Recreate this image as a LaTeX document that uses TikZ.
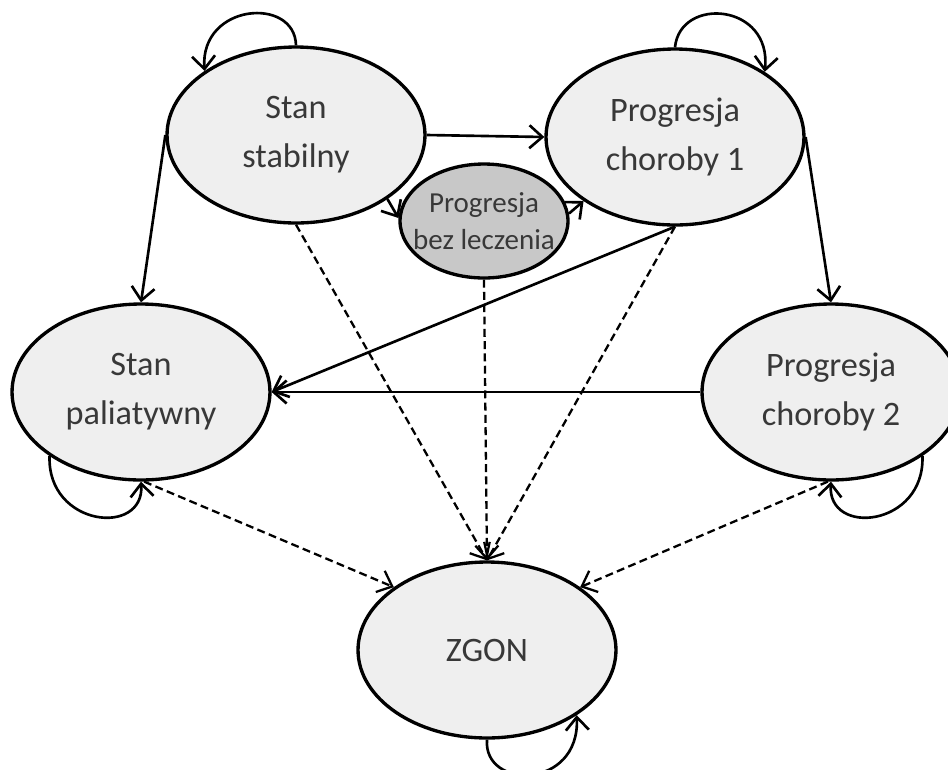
\documentclass[tikz,border=0pt]{standalone}
\usepackage{fontspec}
\setmainfont{Carlito}
\usetikzlibrary{shapes.geometric}
\usetikzlibrary{arrows.meta}
\definecolor{statefill}{HTML}{EFEFEF}
\definecolor{untreatedfill}{HTML}{C8C8C8}
\definecolor{labelgray}{HTML}{383838}
\begin{document}
\begin{tikzpicture}[x=0.02cm,y=-0.02cm,
        >={Straight Barb[length=2.6mm,width=4.6mm]},
        state/.style={ellipse,draw,line width=1.9pt,fill=statefill,text=labelgray,align=center,inner sep=0,minimum width=5.16cm,minimum height=3.52cm,font=\fontsize{19.5}{28}\selectfont},
        untreated/.style={state,fill=untreatedfill,inner xsep=-0.25cm,minimum width=3.36cm,minimum height=2.28cm,font=\fontsize{16.5}{21}\selectfont},
        move/.style={->,line width=1.5pt},
        death/.style={->,line width=1.3pt,dash pattern=on 4.5pt off 2.5pt}]
        \useasboundingbox (0,0) rectangle (948,769);
        % States
        \node[state] (stab) at (296,135) {Stan\\stabilny};
        \node[state] (prog1) at (675,137) {Progresja\\choroby 1};
        \node[untreated] (bez) at (484,221) {Progresja\\bez leczenia};
        \node[state] (pal) at (141,392) {Stan\\paliatywny};
        \node[state] (prog2) at (831,392) {Progresja\\choroby 2};
        \node[state] (zgon) at (487,650) {ZGON};
        % Staying in the same state
        \draw[move] (stab.north) .. controls (295,-4) and (200,3) .. (stab.145);
        \draw[move] (prog1.north) .. controls (680,-4) and (772,3) .. (prog1.36);
        \draw[move] (pal.215) .. controls (47,527) and (145,537) .. (pal.south);
        \draw[move] (prog2.-35) .. controls (925,527) and (827,537) .. (prog2.south);
        \draw[move] (zgon.south) .. controls (483,790) and (580,790) .. (zgon.-36);
        % Transitions
        \draw[move] (stab.east) -- (prog1.west);
        \draw[move] (stab.-35) .. controls (392,207) .. (bez.178);
        \draw[move] (bez.5) -- (prog1.215);
        \draw[move] (stab.west) -- (pal.north);
        \draw[move] (prog1.east) -- (prog2.north);
        \draw[move] (prog2.west) -- (pal.east);
        \draw[move] (prog1.south) -- (pal.east);
        % Death
        \draw[death] (stab.south) -- (zgon.north);
        \draw[death] (bez.south) -- (zgon.north);
        \draw[death] (prog1.south) -- (zgon.north);
        \draw[death] (pal.-88) -- (zgon.146);
        \draw[death] (prog2.-92) -- (zgon.34);
\end{tikzpicture}
\end{document}
